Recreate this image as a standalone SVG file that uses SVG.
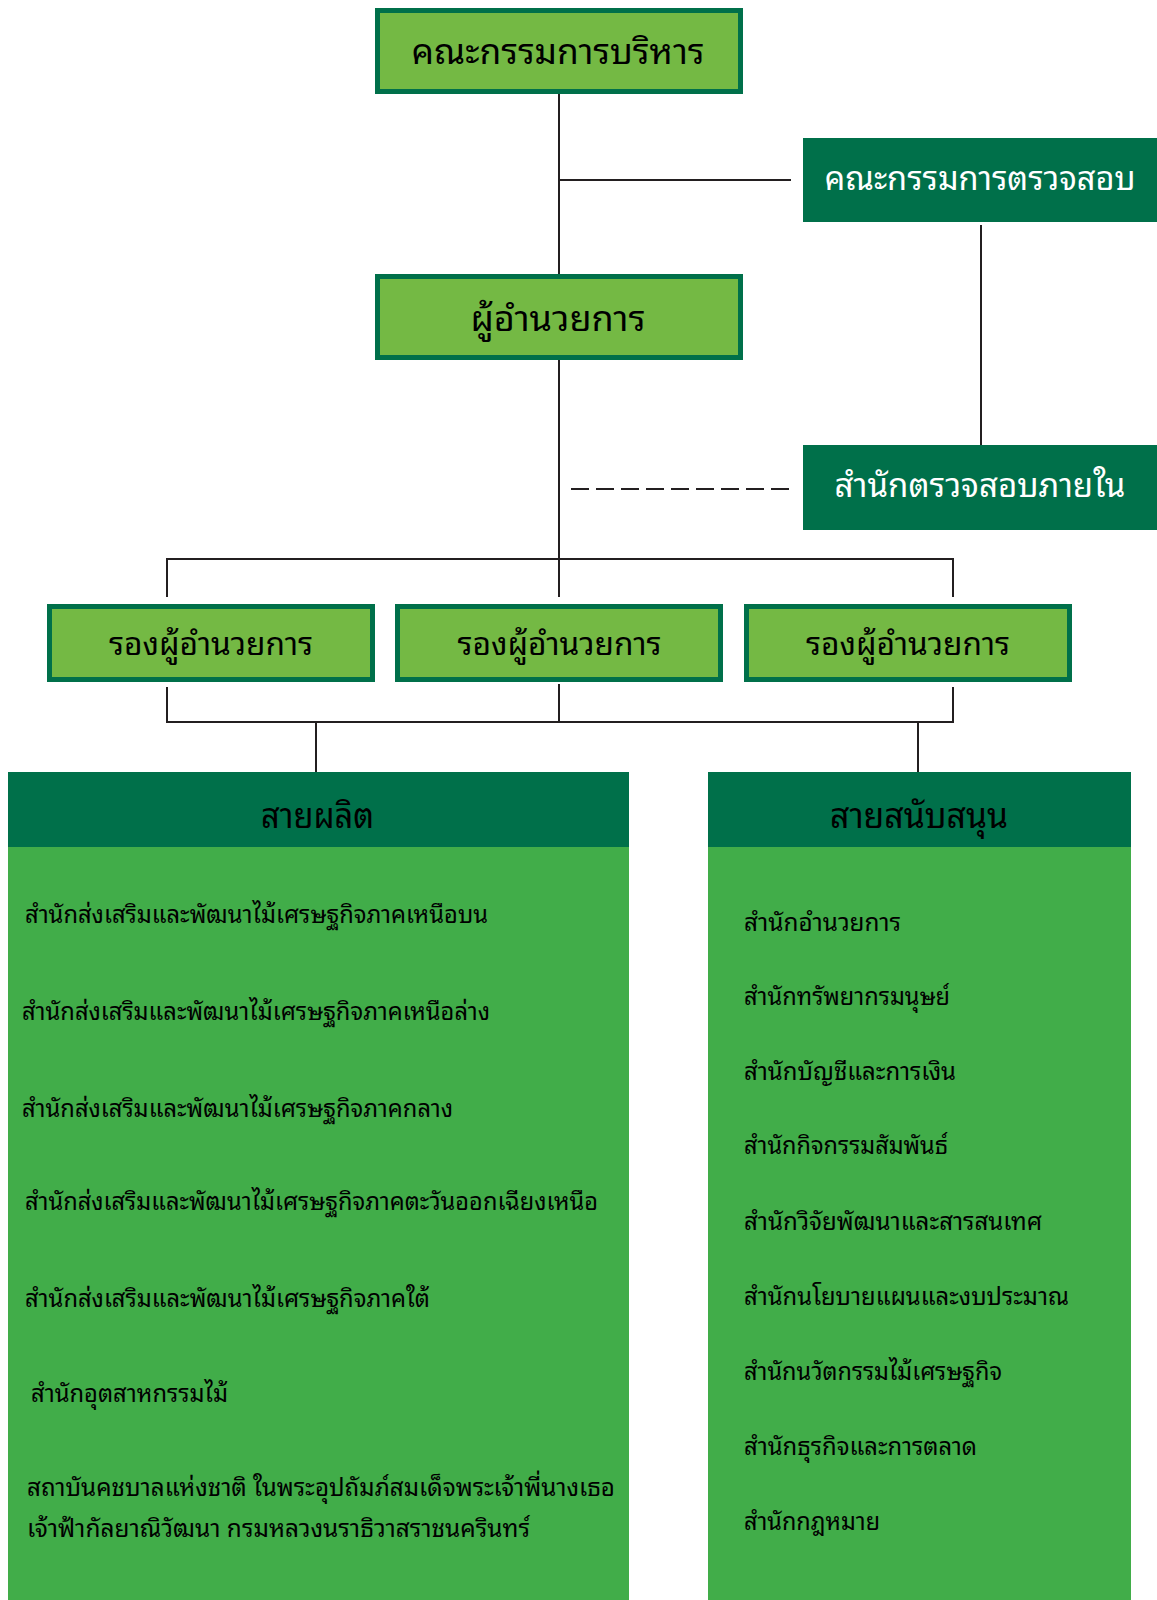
<svg xmlns="http://www.w3.org/2000/svg" width="1157" height="1600" viewBox="0 0 1157 1600">
<style>
.box{fill:#74B944;stroke:#00704A;stroke-width:5}
.dark{fill:#00704A}
.body{fill:#41AD49}
.ln{stroke:#231F20;stroke-width:2;fill:none}
text{font-family:"Noto Sans Thai Looped","Loma","Garuda","Waree","Tahoma","Noto Sans Thai","Noto Sans","DejaVu Sans",sans-serif;fill:#000}
.t1{font-size:35px;text-anchor:middle}
.tw{font-size:34px;text-anchor:middle;fill:#fff}
.t2{font-size:32px;text-anchor:middle}
.th{font-size:35px;text-anchor:middle}
.l{font-size:24px}
.r{font-size:24px}
</style>
<rect width="1157" height="1600" fill="#fff"/>
<g id="connectors">
<line class="ln" x1="559" y1="94" x2="559" y2="274"/>
<line class="ln" x1="559" y1="180" x2="791" y2="180"/>
<line class="ln" x1="981" y1="225" x2="981" y2="445"/>
<line class="ln" x1="559" y1="360" x2="559" y2="597"/>
<line class="ln" x1="571" y1="489" x2="791" y2="489" stroke-dasharray="18,7"/>
<polyline class="ln" points="167,597 167,559 953,559 953,597"/>
<polyline class="ln" points="167,687 167,722 953,722 953,687"/>
<line class="ln" x1="559" y1="684" x2="559" y2="722"/>
<line class="ln" x1="316" y1="722" x2="316" y2="772"/>
<line class="ln" x1="918" y1="722" x2="918" y2="772"/>
</g>
<g id="board">
<rect class="box" x="377.5" y="10.5" width="363" height="81"/>
<text class="t1" x="558" y="64" textLength="293" lengthAdjust="spacingAndGlyphs">คณะกรรมการบริหาร</text>
</g>
<g id="audit-committee">
<rect class="dark" x="803" y="138" width="354" height="84"/>
<text class="tw" x="980" y="190" textLength="311" lengthAdjust="spacingAndGlyphs">คณะกรรมการตรวจสอบ</text>
</g>
<g id="director">
<rect class="box" x="377.5" y="276.5" width="363" height="81"/>
<text class="t1" x="558" y="331" textLength="175" lengthAdjust="spacingAndGlyphs">ผู้อำนวยการ</text>
</g>
<g id="internal-audit">
<rect class="dark" x="803" y="445" width="354" height="85"/>
<text class="tw" x="980" y="497" textLength="291" lengthAdjust="spacingAndGlyphs">สำนักตรวจสอบภายใน</text>
</g>
<g id="deputy1">
<rect class="box" x="49.5" y="606.5" width="323" height="73"/>
<text class="t2" x="211" y="655" textLength="204" lengthAdjust="spacingAndGlyphs">รองผู้อำนวยการ</text>
</g>
<g id="deputy2">
<rect class="box" x="397.5" y="606.5" width="323" height="73"/>
<text class="t2" x="559.5" y="655" textLength="204" lengthAdjust="spacingAndGlyphs">รองผู้อำนวยการ</text>
</g>
<g id="deputy3">
<rect class="box" x="746.5" y="606.5" width="323" height="73"/>
<text class="t2" x="908" y="655" textLength="204" lengthAdjust="spacingAndGlyphs">รองผู้อำนวยการ</text>
</g>
<g id="production">
<rect class="body" x="8" y="772" width="621" height="828"/>
<rect class="dark" x="8" y="772" width="621" height="75"/>
<text class="th" x="317.5" y="828" textLength="113" lengthAdjust="spacingAndGlyphs">สายผลิต</text>
<text class="l" x="25" y="923" textLength="463" lengthAdjust="spacingAndGlyphs">สำนักส่งเสริมและพัฒนาไม้เศรษฐกิจภาคเหนือบน</text>
<text class="l" x="22" y="1020" textLength="468" lengthAdjust="spacingAndGlyphs">สำนักส่งเสริมและพัฒนาไม้เศรษฐกิจภาคเหนือล่าง</text>
<text class="l" x="22" y="1117" textLength="431" lengthAdjust="spacingAndGlyphs">สำนักส่งเสริมและพัฒนาไม้เศรษฐกิจภาคกลาง</text>
<text class="l" x="25" y="1210" textLength="573" lengthAdjust="spacingAndGlyphs">สำนักส่งเสริมและพัฒนาไม้เศรษฐกิจภาคตะวันออกเฉียงเหนือ</text>
<text class="l" x="25" y="1307" textLength="405" lengthAdjust="spacingAndGlyphs">สำนักส่งเสริมและพัฒนาไม้เศรษฐกิจภาคใต้</text>
<text class="l" x="31" y="1402" textLength="197" lengthAdjust="spacingAndGlyphs">สำนักอุตสาหกรรมไม้</text>
<text class="l" x="27" y="1496" textLength="588" lengthAdjust="spacingAndGlyphs">สถาบันคชบาลแห่งชาติ ในพระอุปถัมภ์สมเด็จพระเจ้าพี่นางเธอ</text>
<text class="l" x="27" y="1537" textLength="503" lengthAdjust="spacingAndGlyphs">เจ้าฟ้ากัลยาณิวัฒนา กรมหลวงนราธิวาสราชนครินทร์</text>
</g>
<g id="support">
<rect class="body" x="708" y="772" width="423" height="828"/>
<rect class="dark" x="708" y="772" width="423" height="75"/>
<text class="th" x="919" y="828" textLength="178" lengthAdjust="spacingAndGlyphs">สายสนับสนุน</text>
<text class="r" x="744" y="931" textLength="157" lengthAdjust="spacingAndGlyphs">สำนักอำนวยการ</text>
<text class="r" x="744" y="1005" textLength="206" lengthAdjust="spacingAndGlyphs">สำนักทรัพยากรมนุษย์</text>
<text class="r" x="744" y="1080" textLength="212" lengthAdjust="spacingAndGlyphs">สำนักบัญชีและการเงิน</text>
<text class="r" x="744" y="1154" textLength="204" lengthAdjust="spacingAndGlyphs">สำนักกิจกรรมสัมพันธ์</text>
<text class="r" x="744" y="1230" textLength="298" lengthAdjust="spacingAndGlyphs">สำนักวิจัยพัฒนาและสารสนเทศ</text>
<text class="r" x="744" y="1305" textLength="325" lengthAdjust="spacingAndGlyphs">สำนักนโยบายแผนและงบประมาณ</text>
<text class="r" x="744" y="1380" textLength="258" lengthAdjust="spacingAndGlyphs">สำนักนวัตกรรมไม้เศรษฐกิจ</text>
<text class="r" x="744" y="1455" textLength="233" lengthAdjust="spacingAndGlyphs">สำนักธุรกิจและการตลาด</text>
<text class="r" x="744" y="1530" textLength="136" lengthAdjust="spacingAndGlyphs">สำนักกฎหมาย</text>
</g>
</svg>
